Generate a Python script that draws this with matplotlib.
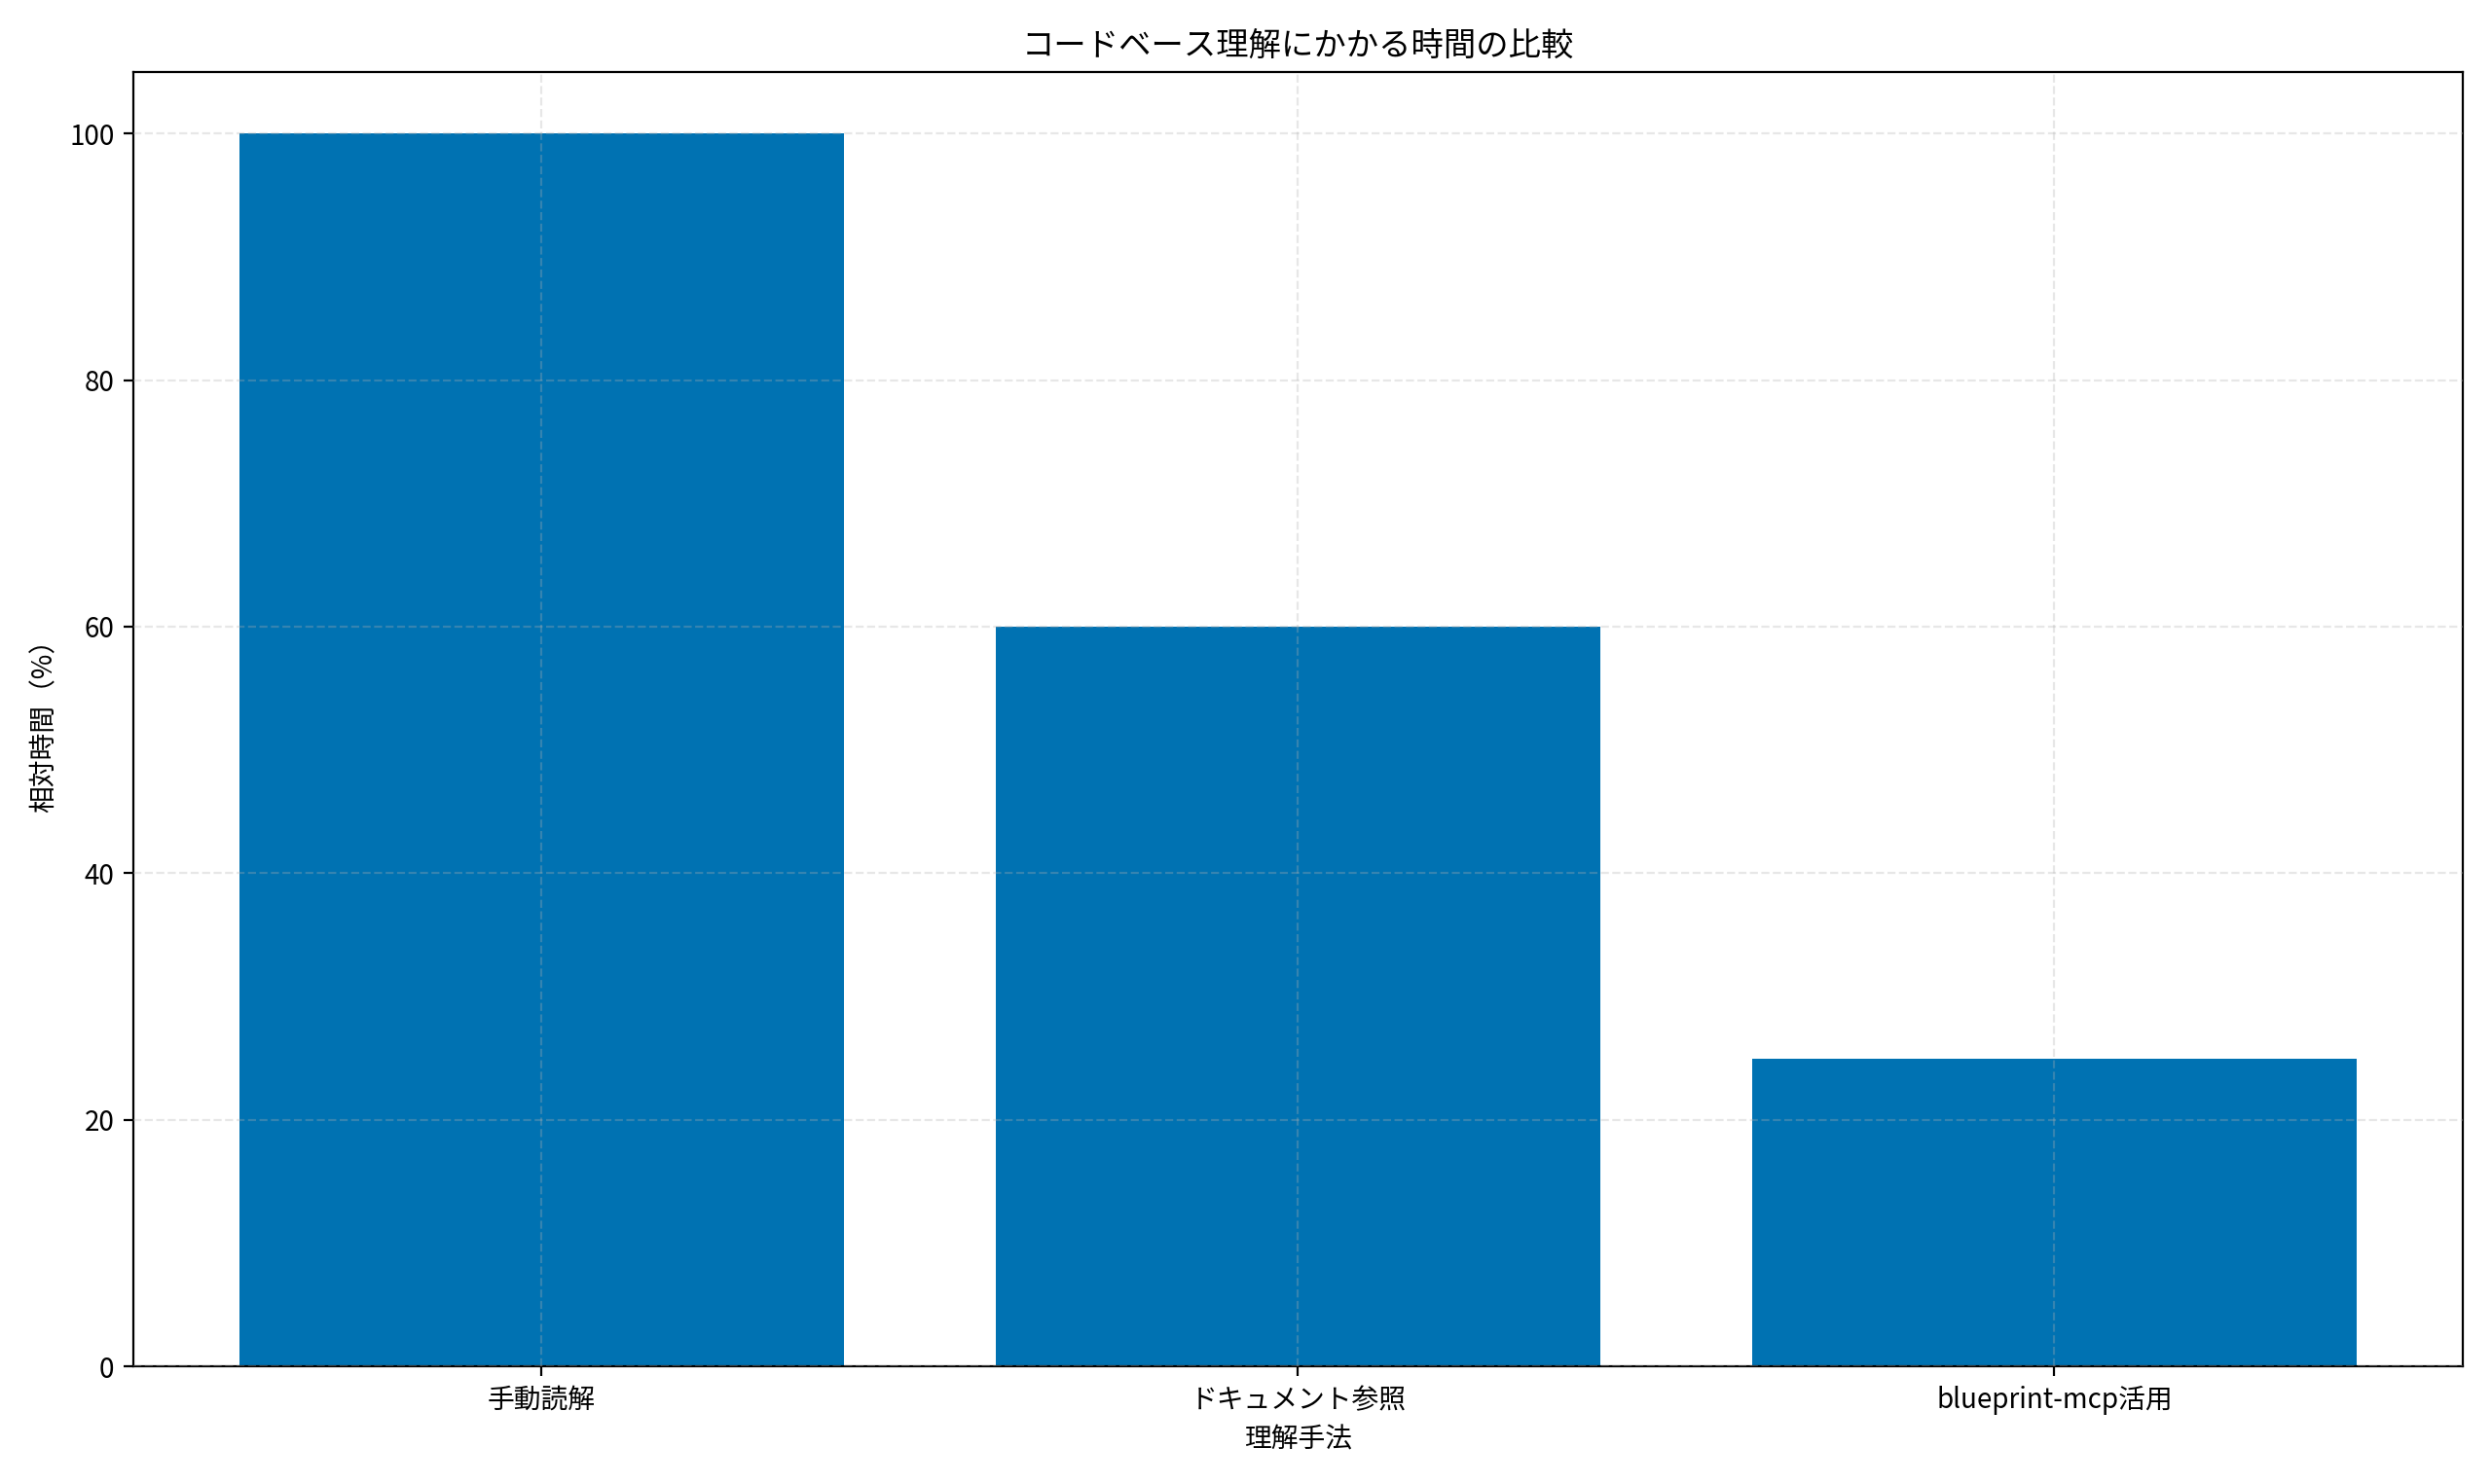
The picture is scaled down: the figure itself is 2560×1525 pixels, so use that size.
import matplotlib
matplotlib.use("Agg")
import matplotlib.pyplot as plt

plt.rcParams['font.family'] = ['Noto Sans CJK JP', 'DejaVu Sans']

categories = ["手動読解", "ドキュメント参照", "blueprint-mcp活用"]
values = [100, 60, 25]

fig, ax = plt.subplots(figsize=(12.8, 7.625), dpi=200)
ax.bar(categories, values, color="#0072B2", width=0.8)
ax.set_axisbelow(False)
ax.grid(True, linestyle="--", alpha=0.3)
ax.set_title("コードベース理解にかかる時間の比較", fontsize=12)
ax.set_xlabel("理解手法")
ax.set_ylabel("相対時間（%）")
fig.tight_layout()
fig.savefig("out.png", dpi=200)
